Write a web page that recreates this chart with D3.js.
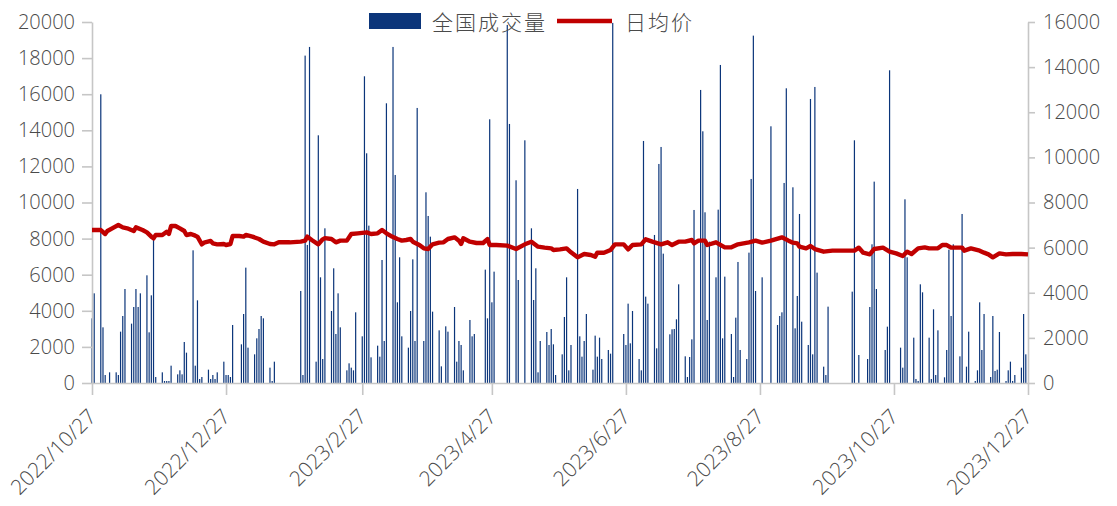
<!DOCTYPE html>
<html>
<head>
<meta charset="utf-8">
<script src="https://cdn.jsdelivr.net/npm/d3@7"></script>
<style>
  html, body { margin: 0; padding: 0; background: #fff; }
  svg { display: block; }
</style>
</head>
<body>
<svg id="chart" width="1117" height="506"></svg>
<script>
// Months covered by the data; the per-month arrays below line up with this list.
const months = ["2022-10","2022-11","2022-12","2023-01","2023-02","2023-03","2023-04",
                "2023-05","2023-06","2023-07","2023-08","2023-09","2023-10","2023-11","2023-12"];

// 全国成交量: trading days (day of month) and daily volume
const volumeDays = [
  [27,28,31],
  [1,2,4,7,8,9,10,11,14,15,16,17,18,21,22,23,24,25,28,29,30],
  [1,2,5,6,7,8,9,12,13,14,15,16,19,20,21,22,23,26,27,28,29,30],
  [3,4,5,6,9,10,11,12,13,16,17,18,30,31],
  [1,2,3,6,7,8,9,10,13,14,15,16,17,20,21,22,23,24,27,28],
  [1,2,3,6,7,8,9,10,13,14,15,16,17,20,21,22,23,24,27,28,29,30,31],
  [3,4,6,7,10,11,12,13,14,17,18,19,24,25,26,27,28],
  [4,5,8,9,12,15,16,17,18,19,22,23,24,25,26,29,30,31],
  [1,2,5,6,7,8,9,12,13,14,15,16,19,20,21,26,27,28,29,30],
  [3,4,5,6,7,10,11,12,13,14,17,18,19,20,21,24,25,26,27,28,31],
  [1,2,3,4,7,8,9,10,11,14,15,16,17,18,21,22,23,24,25,28],
  [1,4,5,6,7,8,11,12,13,14,15,18,19,20,21,22,25,26,27],
  [8,9,11,15,16,17,18,19,23,24,25,30,31],
  [1,2,5,6,7,8,9,12,13,14,15,16,19,20,21,22,23,26,27,29,30],
  [3,4,5,6,7,10,11,12,13,14,17,18,19,20,21,24,25,26]
];
const volumeValues = [
  [3583,4968,15995],
  [3084,443,591,591,443,2844,3712,5208,3288,4211,5208,4211,4968,5966,2807,4857,7924,332,591,111,111],
  [111,960,480,702,480,2272,1681,7351,960,4580,222,332,739,222,443,222,591,1182,443,443,332,3214],
  [2143,3823,6391,1958,1588,2475,2992,3712,3583,850,111,1182,5098,443],
  [18138,7647,18618,1182,13723,5855,1330,8570,3990,6354,2715,4968,3084,702,1090,850,702,3916,2586,16992],
  [12726,8718,1422,2069,1459,6815,2327,15496,18618,11525,4470,6963,2586,1958,3990,6852,2327,15238,2327,10565,9253,8108,3953],
  [2918,923,3140,2844,4211,1182,2327,2106,702,3491,2586,2715,6280,3583,14610,4470,6169],
  [19837,14351,11230,5707,13446,8570,4599,6354,591,2327,2826,2106,2992,2143,443,1588,3657,5855],
  [702,2106,10750,2586,1459,2327,3823,739,2623,1459,2512,1330,1829,1625,19950,2715,2106,4396,2198,3990],
  [1330,702,13409,4784,4396,8201,1921,12135,13077,7166,2697,2974,2992,3528,5467,1478,332,1441,2420,9586,16235],
  [13945,9457,3491,7831,5855,9604,17620,2475,5892,2715,332,3620,6705,1829,1330,7222,11304,19245,5098,5855],
  [14222,3214,3712,3916,11082,16327,10842,3029,4821,9364,3398,2106,15736,1588,16401,6114,905,443,4230],
  [5061,13446,1551,1330,4211,7684,11156,5208,1829,3121,17325,1958,850],
  [10177,6963,2512,222,111,5467,5024,2512,222,4082,443,2918,314,1829,7388,3712,7684,1478,9364,905,2844],
  [111,702,4470,1829,3823,332,3712,665,739,2826,111,702,1182,111,443,850,3823,1588]
];

// 日均价: sampled days (day of month) and average price
const priceDays = [
  [27,29,31],
  [2,3,6,8,10,12,15,16,19,21,23,24,25,28,30],
  [1,2,4,6,8,9,11,13,14,16,17,20,21,23,26,27,29,30],
  [2,4,5,8,11,13,16,18,20,25,30],
  [1,2,4,7,9,10,13,15,17,20,22,25],
  [1,3,6,8,10,12,15,17,19,21,22,25,27,29,31],
  [3,5,7,10,12,13,14,17,20,23,25,26,29],
  [4,8,12,15,18,21,24,25,28,31],
  [2,5,8,11,13,14,17,20,22,26,28,30],
  [4,6,9,13,16,18,21,24,27,28,30],
  [2,3,7,11,14,17,22,25,28],
  [1,6,9,11,13,14,17,19,21,25,29],
  [3,9,11,13,16,18,22,25,28,31],
  [2,4,7,10,12,16,18,20,22,27,28],
  [1,5,7,9,11,14,17,20,24,27]
];
const priceValues = [
  [6781,6781,6781],
  [6604,6737,6899,7003,6899,6855,6737,6899,6781,6678,6486,6412,6560,6560,6707],
  [6604,6958,6958,6855,6737,6560,6604,6530,6486,6146,6220,6294,6190,6146,6161,6116,6161,6516],
  [6516,6486,6560,6486,6382,6264,6161,6146,6235,6235,6264],
  [6309,6486,6338,6146,6368,6420,6382,6235,6309,6309,6604,6633],
  [6678,6604,6633,6781,6633,6516,6382,6309,6338,6382,6264,6116,5968,5938,6146],
  [6220,6235,6382,6456,6309,6161,6412,6264,6205,6205,6382,6116,6116],
  [6087,5938,6146,6264,6042,5998,5968,5894,5924,5968],
  [5791,5569,5717,5673,5599,5776,5776,5894,6146,6146,5924,6116],
  [6146,6368,6264,6146,6235,6116,6264,6264,6338,6190,6309],
  [6309,6116,6235,6013,6013,6146,6235,6309,6220],
  [6309,6456,6309,6220,6190,6042,5968,6072,5938,5820,5865],
  [5865,5865,5998,5776,5702,5938,5998,5820,5746,5628],
  [5820,5717,5968,6013,5968,5968,6116,6116,5998,5998,5865],
  [5968,5865,5776,5702,5569,5746,5702,5717,5717,5702]
];

const leftTicks  = [0,2000,4000,6000,8000,10000,12000,14000,16000,18000,20000];
const rightTicks = [0,2000,4000,6000,8000,10000,12000,14000,16000];
const xTickLabels = ["2022/10/27","2022/12/27","2023/2/27","2023/4/27",
                     "2023/6/27","2023/8/27","2023/10/27","2023/12/27"];
const seriesNames = ["全国成交量","日均价"];

const parseDay = d3.timeParse("%Y-%m-%d");
const parseTick = d3.timeParse("%Y/%m/%d");
const fmtTick = d => `${d.getFullYear()}/${d.getMonth() + 1}/${d.getDate()}`;

function flatten(days, values) {
  const out = [];
  months.forEach((m, i) => {
    days[i].forEach((day, j) => {
      out.push({ date: parseDay(`${m}-${String(day).padStart(2, "0")}`), value: values[i][j] });
    });
  });
  return out;
}
const volume = flatten(volumeDays, volumeValues);
const price = flatten(priceDays, priceValues);
const tickDates = xTickLabels.map(parseTick);

const svg = d3.select("#chart");
const margin = { left: 92, right: 89, top: 22, bottom: 123 };
const W = 1117, H = 506;
const x0 = margin.left, x1 = W - margin.right, yTop = margin.top, yBot = H - margin.bottom;

const x = d3.scaleTime().domain([tickDates[0], tickDates[tickDates.length - 1]]).range([x0, x1]);
const yL = d3.scaleLinear().domain([0, 20000]).range([yBot, yTop]);
const yR = d3.scaleLinear().domain([0, 16000]).range([yBot, yTop]);

const textColor = "#4a4a4a";
const axisColor = "#c6c6c6";
const barColor = "#0b357a";
const lineColor = "#c00000";
const numFont = "'Open Sans', 'Noto Sans', sans-serif";
const cjkFont = "'Noto Sans CJK SC', 'Noto Sans', sans-serif";

// volume bars (left axis)
svg.append("g")
  .selectAll("rect")
  .data(volume)
  .join("rect")
  .attr("x", d => x(d.date) - 0.6)
  .attr("width", 1.2)
  .attr("y", d => yL(d.value))
  .attr("height", d => yBot - yL(d.value))
  .attr("fill", barColor);

// axes
function styleAxis(g) {
  g.select(".domain").attr("stroke", axisColor).attr("stroke-width", 1.6);
  g.selectAll(".tick line").attr("stroke", axisColor).attr("stroke-width", 1.6);
  g.selectAll(".tick text").attr("fill", textColor)
    .style("font-family", numFont).style("font-size", "20px").style("font-weight", 300);
}

svg.append("g")
  .attr("transform", `translate(${x0},0)`)
  .call(d3.axisLeft(yL).tickValues(leftTicks).tickSize(10).tickSizeOuter(0).tickPadding(7).tickFormat(d3.format("d")))
  .call(styleAxis);

svg.append("g")
  .attr("transform", `translate(${x1},0)`)
  .call(d3.axisRight(yR).tickValues(rightTicks).tickSize(7).tickSizeOuter(0).tickPadding(8).tickFormat(d3.format("d")))
  .call(styleAxis);

const xAxis = svg.append("g")
  .attr("transform", `translate(0,${yBot})`)
  .call(d3.axisBottom(x).tickValues(tickDates).tickSize(12).tickSizeOuter(0).tickFormat(fmtTick))
  .call(styleAxis);
xAxis.selectAll(".tick text")
  .attr("text-anchor", "end")
  .attr("dy", null)
  .attr("y", null)
  .attr("transform", "translate(5,35) rotate(-45)")
  .style("font-size", "21px");

// average price line (right axis)
svg.append("path")
  .datum(price)
  .attr("fill", "none")
  .attr("stroke", lineColor)
  .attr("stroke-width", 4.4)
  .attr("stroke-linejoin", "round")
  .attr("d", d3.line().x(d => x(d.date)).y(d => yR(d.value)));

// legend
const lg = svg.append("g");
lg.append("rect").attr("x", 369).attr("y", 13).attr("width", 52).attr("height", 16).attr("fill", barColor);
lg.append("text").attr("x", 432).attr("y", 21).attr("dominant-baseline", "central")
  .attr("fill", textColor).style("font-family", cjkFont).style("font-size", "21px")
  .style("font-weight", 300).style("letter-spacing", "2px").text(seriesNames[0]);
lg.append("line").attr("x1", 557).attr("x2", 612).attr("y1", 21).attr("y2", 21)
  .attr("stroke", lineColor).attr("stroke-width", 4.4);
lg.append("text").attr("x", 625).attr("y", 21).attr("dominant-baseline", "central")
  .attr("fill", textColor).style("font-family", cjkFont).style("font-size", "21px")
  .style("font-weight", 300).style("letter-spacing", "2px").text(seriesNames[1]);
</script>
</body>
</html>
